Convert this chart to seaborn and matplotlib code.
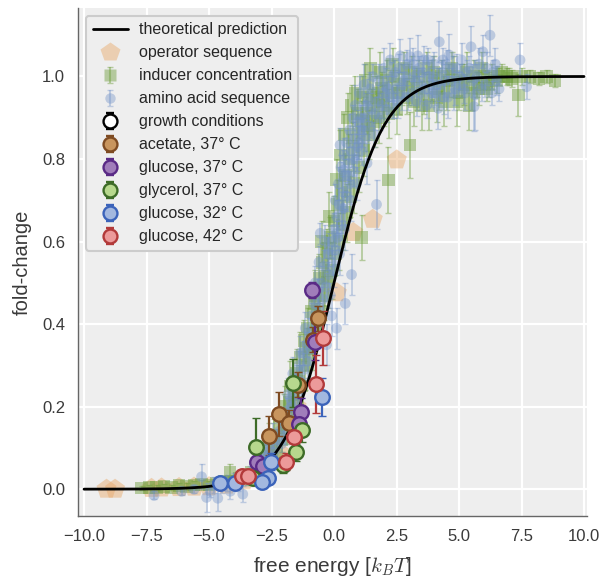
import numpy as np
import pandas as pd
import matplotlib
matplotlib.use("Agg")
import matplotlib.pyplot as plt
import seaborn as sns

# ---------------- data ----------------
theory_x = np.linspace(-10, 10, 400)
theory_y = 1.0 / (1.0 + np.exp(-theory_x))

# operator sequence (pentagons)
op_x = [-9.1, -8.76, -7.3, -6.9, -6.2, -5.6, -5.0, -4.3, -3.6, -2.2, -1.5, 0.11, 0.77, 1.55, 2.51]
op_y = [0.0, 0.0, 0.002, 0.003, 0.004, 0.005, 0.006, 0.01, 0.02, 0.09, 0.2, 0.476, 0.622, 0.654, 0.798]

# inducer concentration (squares)
ind_x = [-7.7, -7.4, -7.1, -6.8, -6.5, -6.2, -5.9, -5.6, -5.3, -5.0, -4.7, -4.4, -4.16, -4.1, -3.8, -3.5,
         -3.3, -3.1, -3.0, -2.8, -2.7, -2.5, -2.4, -2.3, -2.2, -2.1, -2.0, -1.9, -1.8, -1.75, -1.7, -1.6,
         -1.5, -1.45, -1.35, -1.3, -1.2, -1.15, -1.05, -1.0, -0.9, -0.85, -0.75, -0.7, -0.6, -0.55, -0.45,
         -0.4, -0.36, -0.3, -0.25, -0.15, -0.1, 0.0, 0.05, 0.15, 0.2, 0.3, 0.35, 0.45, 0.5, 0.6, 0.65,
         0.75, 0.8, 0.9, 1.0, 1.1, 1.1, 1.2, 1.3, 1.4, 1.5, 1.7, 1.8, 1.9, 2.0, 2.17, 2.3, 2.4, 2.5, 2.7,
         2.9, 3.04, 3.1, 3.3, 3.5, 3.7, 3.9, 4.1, 4.3, 4.5, 4.7, 4.9, 5.1, 5.3, 5.5, 5.7, 5.9, 6.1, 6.3,
         6.5, 6.7, 6.9, 7.1, 7.37, 7.5, 7.84, 8.2, 8.5, 8.84]
ind_y = [0.003, 0.005, 0.004, 0.006, 0.005, 0.008, 0.007, 0.01, 0.012, 0.01, 0.015, 0.018, 0.04, 0.02,
         0.025, 0.03, 0.04, 0.035, 0.05, 0.08, 0.06, 0.1, 0.13, 0.09, 0.15, 0.12, 0.18, 0.15, 0.21, 0.25,
         0.18, 0.23, 0.28, 0.21, 0.32, 0.25, 0.36, 0.3, 0.39, 0.33, 0.43, 0.36, 0.47, 0.4, 0.51, 0.43,
         0.55, 0.47, 0.515, 0.58, 0.5, 0.61, 0.53, 0.65, 0.57, 0.69, 0.6, 0.72, 0.64, 0.76, 0.67, 0.8,
         0.71, 0.83, 0.74, 0.86, 0.78, 0.89, 0.61, 0.82, 0.91, 0.86, 0.93, 0.95, 0.9, 0.97, 0.93, 0.749,
         0.96, 1.0, 0.92, 0.98, 0.95, 0.834, 1.01, 0.97, 0.93, 1.02, 0.99, 0.95, 1.0, 0.97, 1.02, 0.94,
         0.99, 1.01, 0.96, 0.98, 1.02, 0.97, 1.0, 0.99, 1.01, 1.0, 0.995, 0.955, 1.0, 1.0, 0.995, 1.0, 0.99]
ind_err = [0.005, 0.005, 0.005, 0.006, 0.006, 0.008, 0.008, 0.01, 0.01, 0.01, 0.012, 0.012, 0.02, 0.015,
           0.015, 0.02, 0.02, 0.02, 0.025, 0.03, 0.02, 0.03, 0.04, 0.03, 0.04, 0.03, 0.05, 0.04, 0.05, 0.06,
           0.04, 0.05, 0.06, 0.04, 0.06, 0.05, 0.05, 0.06, 0.05, 0.06, 0.05, 0.07, 0.06, 0.05, 0.06, 0.07,
           0.05, 0.06, 0.07, 0.05, 0.06, 0.05, 0.07, 0.06, 0.05, 0.06, 0.07, 0.05, 0.06, 0.05, 0.07, 0.06,
           0.05, 0.06, 0.07, 0.05, 0.06, 0.05, 0.055, 0.06, 0.05, 0.06, 0.04, 0.05, 0.06, 0.04, 0.05, 0.08,
           0.05, 0.04, 0.06, 0.05, 0.04, 0.08, 0.04, 0.05, 0.06, 0.04, 0.05, 0.06, 0.04, 0.05, 0.04, 0.06,
           0.04, 0.05, 0.04, 0.03, 0.04, 0.03, 0.03, 0.03, 0.02, 0.02, 0.02, 0.05, 0.02, 0.015, 0.015, 0.015, 0.015]
# second batch of inducer points (dense upper band)
ind2_x = [-2.6, -1.95, -1.4, -1.1, -0.8, -0.5, -0.2, 0.1, 0.25, 0.4, 0.55, 0.7, 0.85, 0.95, 1.15, 1.25,
          1.35, 1.45, 1.55, 1.65, 1.85, 1.95, 2.1, 2.2, 2.35, 2.6, 2.8, 3.0, 3.2, 3.4, 3.6, 3.8, 4.0, 4.2,
          4.4, 4.6, 4.8, 5.0, 5.2, 5.4, 5.6, 5.8, 6.0, 6.2, 6.6, 7.0]
ind2_y = [0.12, 0.2, 0.26, 0.34, 0.45, 0.6, 0.66, 0.75, 0.81, 0.86, 0.9, 0.93, 0.96, 0.91, 0.95, 0.99,
          0.88, 1.02, 0.96, 0.89, 1.01, 0.94, 0.99, 0.91, 1.03, 0.96, 1.02, 0.98, 0.94, 1.0, 0.96, 0.93,
          1.01, 0.97, 0.94, 0.99, 1.0, 0.96, 0.98, 0.93, 1.0, 0.97, 1.0, 0.98, 1.0, 1.0]
ind2_err = [0.04, 0.05, 0.04, 0.05, 0.05, 0.05, 0.06, 0.05, 0.06, 0.05, 0.06, 0.05, 0.04, 0.06, 0.05, 0.04,
            0.06, 0.05, 0.04, 0.06, 0.05, 0.04, 0.05, 0.06, 0.04, 0.05, 0.04, 0.05, 0.06, 0.04, 0.05, 0.06,
            0.04, 0.05, 0.06, 0.04, 0.05, 0.04, 0.05, 0.06, 0.04, 0.04, 0.03, 0.03, 0.02, 0.02]

# amino acid sequence (small circles)
aa_x = [-7.2, -6.1, -5.6, -5.3, -5.1, -4.95, -4.8, -4.65, -4.5, -4.3, -4.15, -4.0, -3.85, -3.65, -3.5,
        -3.35, -3.2, -3.1, -3.0, -2.9, -2.8, -2.7, -2.6, -2.5, -2.4, -2.3, -2.2, -2.1, -2.0, -1.95, -1.9,
        -1.8, -1.75, -1.7, -1.6, -1.55, -1.5, -1.45, -1.4, -1.3, -1.25, -1.2, -1.1, -1.05, -1.0, -0.95,
        -0.9, -0.85, -0.8, -0.7, -0.65, -0.6, -0.55, -0.5, -0.45, -0.4, -0.3, -0.3, -0.25, -0.2, -0.1,
        -0.1, -0.05, 0.0, 0.05, 0.1, 0.1, 0.15, 0.2, 0.24, 0.3, 0.35, 0.37, 0.4, 0.45, 0.45, 0.5, 0.6,
        0.65, 0.7, 0.7, 0.8, 0.85, 0.9, 0.97, 1.0, 1.05, 1.1, 1.2, 1.25, 1.37, 1.4, 1.5, 1.6, 1.7, 1.75,
        1.85, 1.95, 2.08, 2.1, 2.2, 2.3, 2.4, 2.5, 2.6, 2.7, 2.8, 2.9, 3.04, 3.1, 3.2, 3.3, 3.4, 3.5, 3.6,
        3.7, 3.8, 3.9, 4.0, 4.1, 4.17, 4.21, 4.3, 4.4, 4.5, 4.61, 4.7, 4.8, 4.9, 5.0, 5.1, 5.2, 5.3, 5.48,
        5.6, 5.64, 5.7, 5.8, 5.95, 6.05, 6.24, 6.35, 6.5, 6.6, 7.44, 7.7]
aa_y = [-0.015, -0.005, 0.0, 0.03, -0.02, -0.005, 0.01, -0.022, 0.005, 0.015, -0.005, 0.02, 0.01, -0.012,
        0.025, 0.035, 0.03, 0.05, 0.04, 0.07, 0.06, 0.09, 0.08, 0.11, 0.09, 0.12, 0.14, 0.11, 0.16, 0.13,
        0.19, 0.17, 0.22, 0.2, 0.25, 0.21, 0.27, 0.23, 0.3, 0.26, 0.33, 0.29, 0.35, 0.31, 0.38, 0.34, 0.42,
        0.37, 0.45, 0.4, 0.48, 0.44, 0.62, 0.5, 0.46, 0.54, 0.49, 0.35, 0.57, 0.52, 0.6, 0.42, 0.55, 0.63,
        0.58, 0.66, 0.39, 0.61, 0.69, 0.834, 0.64, 0.72, 0.773, 0.68, 0.76, 0.45, 0.71, 0.79, 0.74, 0.82,
        0.52, 0.77, 0.85, 0.8, 0.89, 0.84, 0.87, 0.82, 0.9, 0.85, 0.943, 0.88, 0.92, 0.86, 0.69, 0.94,
        0.9, 0.96, 0.975, 0.92, 0.95, 1.0, 0.93, 0.97, 1.02, 0.95, 0.99, 1.03, 1.048, 0.96, 1.0, 0.94,
        1.02, 0.98, 1.04, 0.93, 1.0, 0.96, 1.03, 0.98, 0.923, 1.084, 1.01, 0.95, 1.03, 1.052, 0.99, 0.96,
        1.02, 0.98, 1.04, 0.97, 1.01, 1.072, 0.927, 0.955, 1.0, 1.03, 1.06, 0.98, 1.10, 1.01, 0.99, 0.97,
        1.04, 0.975]
aa_err = [0.01, 0.01, 0.01, 0.03, 0.035, 0.015, 0.02, 0.03, 0.015, 0.02, 0.02, 0.02, 0.015, 0.02, 0.015,
          0.02, 0.02, 0.02, 0.015, 0.02, 0.025, 0.02, 0.03, 0.02, 0.03, 0.025, 0.03, 0.02, 0.03, 0.02, 0.03,
          0.04, 0.03, 0.04, 0.03, 0.04, 0.03, 0.04, 0.035, 0.04, 0.03, 0.04, 0.03, 0.04, 0.035, 0.04, 0.03,
          0.04, 0.035, 0.04, 0.03, 0.04, 0.025, 0.04, 0.03, 0.04, 0.035, 0.05, 0.04, 0.03, 0.04, 0.05, 0.03,
          0.04, 0.035, 0.04, 0.05, 0.03, 0.04, 0.04, 0.035, 0.04, 0.05, 0.03, 0.04, 0.05, 0.035, 0.04, 0.03,
          0.04, 0.05, 0.035, 0.04, 0.03, 0.03, 0.04, 0.03, 0.035, 0.04, 0.03, 0.05, 0.035, 0.04, 0.03, 0.06,
          0.04, 0.03, 0.04, 0.045, 0.03, 0.04, 0.035, 0.03, 0.04, 0.035, 0.03, 0.04, 0.035, 0.045, 0.03,
          0.04, 0.035, 0.03, 0.04, 0.035, 0.03, 0.04, 0.035, 0.03, 0.04, 0.05, 0.05, 0.03, 0.04, 0.035,
          0.05, 0.03, 0.04, 0.035, 0.03, 0.04, 0.035, 0.03, 0.05, 0.06, 0.085, 0.03, 0.04, 0.04, 0.03,
          0.05, 0.03, 0.035, 0.03, 0.04, 0.03]
# second batch of amino-acid points
aa2_x = [-2.75, -2.45, -2.15, -1.85, -1.65, -1.35, -1.15, -0.75, -0.6, -0.35, -0.2, -0.15, 0.0, 0.05,
         0.12, 0.18, 0.22, 0.28, 0.32, 0.4, 0.42, 0.5, 0.55, 0.62, 0.68, 0.75, 0.78, 0.85, 0.9, 0.95, 1.02,
         1.08, 1.15, 1.2, 1.28, 1.32, 1.45, 1.55, 1.62, 1.8, 1.9, 2.0, 2.15, 2.25, 2.35, 2.45, 2.55, 2.65,
         2.75, 2.85, 2.95, 3.15, 3.25, 3.35, 3.45, 3.55, 3.65, 3.75, 3.85, 3.95, 4.05, 4.25, 4.35, 4.45,
         4.55, 4.75, 4.85, 5.05, 5.25, 5.4, 5.55, 5.9, 6.1, 6.3, 6.45]
aa2_y = [0.1, 0.13, 0.17, 0.23, 0.28, 0.33, 0.39, 0.5, 0.55, 0.6, 0.58, 0.47, 0.53, 0.7, 0.62, 0.74,
         0.57, 0.78, 0.68, 0.81, 0.63, 0.84, 0.76, 0.87, 0.7, 0.9, 0.8, 0.93, 0.74, 0.83, 0.96, 0.9, 0.87,
         0.98, 0.93, 0.79, 0.97, 1.0, 0.91, 0.99, 0.93, 1.02, 0.97, 1.04, 0.95, 1.01, 0.94, 1.05, 0.98, 1.0,
         0.95, 1.03, 0.99, 1.05, 0.96, 1.01, 0.97, 1.04, 0.98, 1.0, 0.96, 0.98, 1.04, 0.99, 0.95, 1.02,
         0.97, 1.0, 0.96, 1.02, 0.99, 0.97, 1.02, 0.96, 1.03]
aa2_err = [0.03, 0.03, 0.03, 0.04, 0.04, 0.04, 0.04, 0.04, 0.04, 0.04, 0.04, 0.03, 0.04, 0.04, 0.03, 0.04,
           0.05, 0.03, 0.04, 0.04, 0.05, 0.03, 0.04, 0.04, 0.05, 0.03, 0.04, 0.05, 0.04, 0.03, 0.04, 0.03,
           0.04, 0.05, 0.03, 0.05, 0.04, 0.03, 0.04, 0.04, 0.03, 0.05, 0.03, 0.04, 0.05, 0.03, 0.04, 0.04,
           0.03, 0.04, 0.03, 0.04, 0.03, 0.05, 0.04, 0.03, 0.04, 0.03, 0.04, 0.05, 0.03, 0.04, 0.03, 0.04,
           0.05, 0.03, 0.04, 0.03, 0.04, 0.03, 0.04, 0.03, 0.04, 0.03, 0.04]

# growth conditions
growth_labels = ["acetate, 37° C", "glucose, 37° C", "glycerol, 37° C", "glucose, 32° C", "glucose, 42° C"]
acetate37_x = [-0.63, -0.85, -1.43, -2.19, -1.79, -2.59]
acetate37_y = [0.414, 0.362, 0.253, 0.182, 0.161, 0.130]
acetate37_err = [0.03, 0.03, 0.03, 0.054, 0.03, 0.048]
glucose37_x = [-0.89, -0.76, -1.32, -1.40, -3.09, -2.83]
glucose37_y = [0.483, 0.357, 0.186, 0.158, 0.065, 0.055]
glucose37_err = [0.02, 0.045, 0.035, 0.03, 0.02, 0.02]
glycerol37_x = [-1.63, -1.28, -1.53, -3.13, -2.06, -3.23]
glycerol37_y = [0.257, 0.144, 0.089, 0.102, 0.059, 0.027]
glycerol37_err = [0.058, 0.03, 0.02, 0.07, 0.02, 0.015]
glucose32_x = [-0.48, -2.52, -2.63, -2.89, -3.96, -4.56]
glucose32_y = [0.224, 0.067, 0.027, 0.018, 0.015, 0.015]
glucose32_err = [0.046, 0.02, 0.015, 0.01, 0.01, 0.01]
glucose42_x = [-0.45, -0.73, -1.59, -1.94, -3.69, -3.43]
glucose42_y = [0.366, 0.255, 0.127, 0.067, 0.031, 0.033]
glucose42_err = [0.065, 0.07, 0.04, 0.02, 0.015, 0.015]

# ---------------- style ----------------
sns.set_theme(style="darkgrid", rc={
    "axes.facecolor": "#EEEEEE",
    "grid.color": "white",
    "grid.linewidth": 1.6,
    "axes.edgecolor": "#666666",
    "axes.linewidth": 1.0,
    "xtick.color": "#3A3A3A",
    "ytick.color": "#3A3A3A",
    "axes.labelcolor": "#3A3A3A",
})
plt.rcParams["font.family"] = ["Liberation Sans", "DejaVu Sans"]
plt.rcParams["mathtext.fontset"] = "cm"

fig = plt.figure(figsize=(5.99, 5.79), dpi=100)
ax = fig.add_axes([0.1307, 0.1088, 0.8493, 0.8774])

C_OP = "#E8A868"
C_IND = "#6E9E3C"
C_AA = "#7393C8"

theory = pd.DataFrame({"F": theory_x, "fc": theory_y})
sns.lineplot(data=theory, x="F", y="fc", color="black", lw=2, ax=ax, zorder=5)

all_ind_x = ind_x + ind2_x
all_ind_y = ind_y + ind2_y
all_ind_err = ind_err + ind2_err
all_aa_x = aa_x + aa2_x
all_aa_y = aa_y + aa2_y
all_aa_err = aa_err + aa2_err

# operator
sns.scatterplot(x=op_x, y=op_y, marker="p", s=230, color=C_OP, alpha=0.45, edgecolor="none",
                ax=ax, zorder=2, legend=False)
# inducer
ax.errorbar(all_ind_x, all_ind_y, yerr=all_ind_err, fmt="none", ecolor=C_IND, alpha=0.45, capsize=2,
            lw=1.3, zorder=2)
sns.scatterplot(x=all_ind_x, y=all_ind_y, marker="s", s=85, color=C_IND, alpha=0.45, edgecolor="none",
                ax=ax, zorder=2, legend=False)
# amino acid
ax.errorbar(all_aa_x, all_aa_y, yerr=all_aa_err, fmt="none", ecolor=C_AA, alpha=0.4, capsize=2, lw=1.3,
            zorder=3)
sns.scatterplot(x=all_aa_x, y=all_aa_y, marker="o", s=60, color=C_AA, alpha=0.4, edgecolor="none",
                ax=ax, zorder=3, legend=False)

growth = [
    (acetate37_x, acetate37_y, acetate37_err, "#C8955E", "#7E4B22"),
    (glucose37_x, glucose37_y, glucose37_err, "#A07DBA", "#5A2A86"),
    (glycerol37_x, glycerol37_y, glycerol37_err, "#B7D88D", "#3D6B27"),
    (glucose32_x, glucose32_y, glucose32_err, "#A3B8DF", "#3B63BA"),
    (glucose42_x, glucose42_y, glucose42_err, "#EC9A9A", "#B23A3A"),
]
for gx, gy, ge, fc, ec in growth:
    ax.errorbar(gx, gy, yerr=ge, fmt="none", ecolor=ec, capsize=3, lw=1.6, zorder=6)
    sns.scatterplot(x=gx, y=gy, marker="o", s=110, color=fc, edgecolor=ec, linewidth=1.7,
                    ax=ax, zorder=7, legend=False)

# legend proxies (drawn far outside the visible limits)
OFF = [-100]
h_theory = ax.plot([], [], color="black", lw=2, label="theoretical prediction")[0]
h_op = ax.plot([], [], ls="none", marker="p", ms=15, color=C_OP, alpha=0.45, mec="none",
               label="operator sequence")[0]
h_ind = ax.errorbar(OFF, OFF, yerr=[1], fmt="s", ms=9, color=C_IND, alpha=0.45, capsize=2, mec="none",
                    label="inducer concentration")
h_aa = ax.errorbar(OFF, OFF, yerr=[1], fmt="o", ms=7.5, color=C_AA, alpha=0.4, capsize=2, mec="none",
                   label="amino acid sequence")
h_gr = ax.errorbar(OFF, OFF, yerr=[1], fmt="o", ms=10, mfc="white", mec="black", mew=1.7, ecolor="black",
                   capsize=3, lw=1.6, label="growth conditions")
handles = [h_theory, h_op, h_ind, h_aa, h_gr]
for (gx, gy, ge, fc, ec), lab in zip(growth, growth_labels):
    handles.append(ax.errorbar(OFF, OFF, yerr=[1], fmt="o", ms=10, mfc=fc, mec=ec, mew=1.7, ecolor=ec,
                               capsize=3, lw=1.6, label=lab))

leg = ax.legend(handles=handles, loc="upper left", fontsize=11.5, frameon=True, framealpha=1,
                facecolor="#EEEEEE", edgecolor="#CCCCCC", borderpad=0.4, labelspacing=0.5,
                handlelength=2.2, handletextpad=0.7, borderaxespad=0.5)
leg.get_frame().set_linewidth(1.5)

ax.set_xlim(-10.23, 10.12)
ax.set_ylim(-0.065, 1.166)
ax.set_xticks([-10, -7.5, -5, -2.5, 0, 2.5, 5, 7.5, 10])
ax.set_yticks([0, 0.2, 0.4, 0.6, 0.8, 1.0])
ax.tick_params(labelsize=12)
ax.set_xlabel("free energy [$k_BT$]", fontsize=15, labelpad=8)
ax.set_ylabel("fold-change", fontsize=14.5, labelpad=7)
for s in ["top", "right"]:
    ax.spines[s].set_visible(False)
for s in ["left", "bottom"]:
    ax.spines[s].set_visible(True)

fig.savefig("out.png", dpi=100)
